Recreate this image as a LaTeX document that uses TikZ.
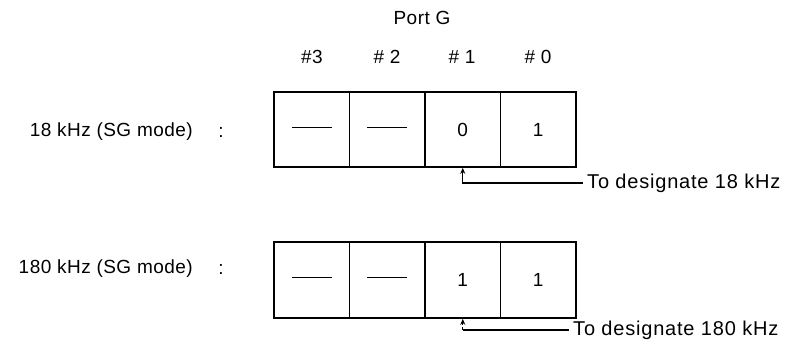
\documentclass[tikz,border=0pt]{standalone}
\usepackage{fontspec}
\setmainfont{Liberation Sans}
\newfontfamily\notefont[LetterSpace=4]{Liberation Sans}
\newfontfamily\labfont[LetterSpace=2.5]{Liberation Sans}
\usetikzlibrary{arrows.meta}
\begin{document}
\begin{tikzpicture}[x=1pt,y=-1pt,
  txt/.style={font=\labfont\fontsize{19}{22}\selectfont, inner sep=0pt},
  note/.style={font=\notefont\fontsize{20}{23}\selectfont, inner sep=0pt},
  cell/.style={draw, line width=1.7pt, minimum width=75.5pt, inner sep=0pt, font=\fontsize{19}{22}\selectfont},
  topcell/.style={cell, minimum height=75pt},
  botcell/.style={cell, minimum height=76pt},
  lead/.style={line width=1.3pt},
  tip/.style={-{Stealth[length=6pt,width=5pt]}}]
\useasboundingbox (0,0) rectangle (786,346);
\newcommand{\nilbar}{\rule[0.45ex]{40pt}{1.4pt}}
% headings
\node[txt] (port) at (422,18) {Port G};
\node[txt] (h3) at (312,57) {\#3};
\node[txt] (h2) at (387,57) {\# 2};
\node[txt] (h1) at (462,57) {\# 1};
\node[txt] (h0) at (538,57) {\# 0};
% top row
\node[txt,anchor=east] (l1) at (193,132) {18 kHz (SG mode)};
\node[txt] (c1) at (221,132) {:};
\node[topcell] (t3) at (311.75,129.5) {\nilbar};
\node[topcell] (t2) at (387.25,129.5) {\nilbar};
\node[topcell] (t1) at (462.75,129.5) {0};
\node[topcell] (t0) at (538.25,129.5) {1};
\node[note,anchor=west] (n1) at (587,183) {To designate 18 kHz};
\draw[lead,tip] ([xshift=-4pt]n1.west) -| (t1.south);
% bottom row
\node[txt,anchor=east] (l2) at (193,269) {180 kHz (SG mode)};
\node[txt] (c2) at (221,269) {:};
\node[botcell] (b3) at (311.75,280) {\nilbar};
\node[botcell] (b2) at (387.25,280) {\nilbar};
\node[botcell] (b1) at (462.75,280) {1};
\node[botcell] (b0) at (538.25,280) {1};
\node[note,anchor=west] (n2) at (573,330) {To designate 180 kHz};
\coordinate (k2) at (b1.south |- n2.west);
\draw[lead] ([xshift=-4pt]n2.west) -- (k2);
\draw[lead,tip,dash pattern=on 3pt off 2pt] (k2) -- (b1.south);
\end{tikzpicture}
\end{document}
